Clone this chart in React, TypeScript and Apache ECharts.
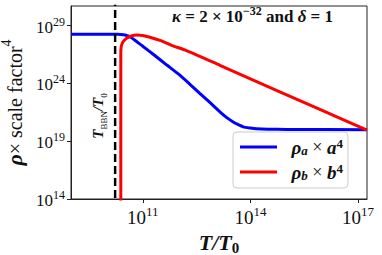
import React, { useEffect, useRef } from "react";
import * as echarts from "echarts";

// log10(T/T0) limits and ticks
const xMin = 9;
const xMax = 17.25;
const yMin = 14;
const yMax = 30.7;
const xTicks = [11, 14, 17];
const yTicks = [14, 19, 24, 29];
const bbnPos = 10.23; // log10(T_BBN/T0)

// log10(T/T0), log10(rho_a a^4)
const blueX = [9, 10.3, 10.46, 10.55, 10.65, 10.8, 11.0, 11.3, 11.67, 12.0, 12.3, 12.59, 12.9, 13.15, 13.35, 13.52, 13.65, 13.8, 14.0, 14.17, 14.5, 15.0, 17.25];
const blueY = [28.25, 28.25, 28.22, 28.15, 28.02, 27.7, 27.22, 26.5, 25.59, 24.8, 23.97, 23.14, 22.27, 21.54, 21.02, 20.67, 20.45, 20.24, 20.14, 20.08, 20.04, 20.02, 20.0];

// log10(T/T0), log10(rho_b b^4)
const redX = [10.388, 10.388, 10.4, 10.45, 10.55, 10.68, 10.83, 11.0, 11.2, 11.48, 11.8, 12.22, 13.15, 14.0, 14.82, 16.0, 17.25];
const redY = [10, 26.6, 27.2, 27.6, 27.91, 28.1, 28.19, 28.15, 28.0, 27.72, 27.3, 26.84, 25.57, 24.4, 23.28, 21.67, 19.95];

const SERIF = "'Liberation Serif', 'DejaVu Serif', serif";
const INK = "#111";

export default function App() {
  const ref = useRef<HTMLDivElement>(null);
  useEffect(() => {
    if (!ref.current) return;
    const chart = echarts.init(ref.current, undefined, { renderer: "svg" });
    const blueData = blueX.map((x, i) => [x, blueY[i]]);
    const redData = redX.map((x, i) => [x, redY[i]]);
    const option: any = {
      animation: false,
      backgroundColor: "#ffffff",
      grid: {
        left: 71,
        top: 6,
        right: 15,
        bottom: 56,
        containLabel: false,
        outerBoundsMode: "none",
        show: true,
        borderColor: "#222",
        borderWidth: 1,
        backgroundColor: "transparent",
      },
      xAxis: {
        type: "value",
        min: xMin,
        max: xMax,
        splitLine: { show: false },
        axisLine: { show: true, lineStyle: { color: "#222", width: 1 } },
        axisTick: { show: true, customValues: xTicks, length: 4, lineStyle: { color: "#222" } },
        axisLabel: {
          customValues: xTicks,
          margin: 6,
          formatter: (v: number) => `{b|10}{s|${Math.round(v)}}`,
          rich: {
            b: { fontFamily: SERIF, fontSize: 19, color: INK, lineHeight: 22, verticalAlign: "bottom" },
            s: { fontFamily: SERIF, fontSize: 13, color: INK, lineHeight: 13, verticalAlign: "top" },
          },
        },
        name: "{i|T}{n|/}{i|T}{z|0}",
        nameLocation: "middle",
        nameGap: 18,
        nameTextStyle: {
          rich: {
            i: { fontFamily: SERIF, fontSize: 22, fontWeight: "bold", fontStyle: "italic", color: INK, lineHeight: 24, verticalAlign: "top" },
            n: { fontFamily: SERIF, fontSize: 22, fontWeight: "bold", fontStyle: "italic", color: INK, lineHeight: 24, verticalAlign: "top" },
            z: { fontFamily: SERIF, fontSize: 15, fontWeight: "bold", color: INK, lineHeight: 26, verticalAlign: "top", padding: [9, 0, 0, 0] },
          },
        },
      },
      yAxis: {
        type: "value",
        min: yMin,
        max: yMax,
        splitLine: { show: false },
        axisLine: { show: true, lineStyle: { color: "#222", width: 1 } },
        axisTick: { show: true, customValues: yTicks, length: 4, lineStyle: { color: "#222" } },
        axisLabel: {
          customValues: yTicks,
          margin: 6,
          formatter: (v: number) => `{b|10}{s|${Math.round(v)}}`,
          rich: {
            b: { fontFamily: SERIF, fontSize: 17, color: INK, lineHeight: 20, verticalAlign: "bottom" },
            s: { fontFamily: SERIF, fontSize: 12, color: INK, lineHeight: 12, verticalAlign: "top" },
          },
        },
        name: "{r|ρ}{t|× scale factor}{s|4}",
        nameLocation: "middle",
        nameGap: 37,
        nameTextStyle: {
          rich: {
            r: { fontFamily: SERIF, fontSize: 22, fontWeight: "bold", fontStyle: "italic", color: INK, lineHeight: 26, verticalAlign: "bottom" },
            t: { fontFamily: SERIF, fontSize: 20, color: INK, lineHeight: 26, verticalAlign: "bottom" },
            s: { fontFamily: SERIF, fontSize: 14, color: INK, lineHeight: 14, verticalAlign: "top" },
          },
        },
      },
      legend: {
        data: [
          { name: "a", icon: "rect" },
          { name: "b", icon: "rect" },
        ],
        orient: "vertical",
        left: 233,
        top: 132,
        itemWidth: 37,
        itemHeight: 3,
        itemGap: 5,
        padding: [5, 5, 6, 7],
        backgroundColor: "#ffffff",
        borderColor: "#cccccc",
        borderWidth: 1,
        borderRadius: 4,
        selectedMode: false,
        formatter: (name: string) =>
          name === "a" ? "{p|  ρ}{q|a}{x| × }{m|a}{u|4}" : "{p|  ρ}{q|b}{x| × }{m|b}{u|4}",
        textStyle: {
          rich: {
            p: { fontFamily: SERIF, fontSize: 19, fontWeight: "bold", fontStyle: "italic", color: INK, lineHeight: 20, verticalAlign: "middle" },
            q: { fontFamily: SERIF, fontSize: 13, fontWeight: "bold", fontStyle: "italic", color: INK, lineHeight: 20, verticalAlign: "bottom", padding: [6, 0, 0, 0] },
            x: { fontFamily: SERIF, fontSize: 18, color: INK, lineHeight: 20, verticalAlign: "middle" },
            m: { fontFamily: SERIF, fontSize: 19, fontWeight: "bold", fontStyle: "italic", color: INK, lineHeight: 20, verticalAlign: "middle" },
            u: { fontFamily: SERIF, fontSize: 13, fontWeight: "bold", color: INK, lineHeight: 13, verticalAlign: "top" },
          },
        },
      },
      graphic: [
        {
          type: "text",
          left: 172,
          top: 5,
          style: {
            text: "{k|κ}{o| = 2 × 10}{e|−32}{o| and }{k|δ}{o| = 1}",
            rich: {
              k: { fontFamily: SERIF, fontSize: 17, fontWeight: "bold", fontStyle: "italic", fill: INK, lineHeight: 20, verticalAlign: "bottom" },
              o: { fontFamily: SERIF, fontSize: 17, fontWeight: "bold", fill: INK, lineHeight: 20, verticalAlign: "bottom" },
              e: { fontFamily: SERIF, fontSize: 12, fontWeight: "bold", fill: INK, lineHeight: 12, verticalAlign: "top" },
            },
          },
        },
        {
          type: "text",
          x: 100,
          y: 116,
          rotation: Math.PI / 2,
          style: {
            x: 0,
            y: 0,
            align: "center",
            verticalAlign: "middle",
            text: "{i|T}{z|BBN}{n|/}{i|T}{z|0}",
            rich: {
              i: { fontFamily: SERIF, fontSize: 15, fontWeight: "bold", fontStyle: "italic", fill: INK, lineHeight: 18, verticalAlign: "top" },
              n: { fontFamily: SERIF, fontSize: 15, fontWeight: "bold", fontStyle: "italic", fill: INK, lineHeight: 18, verticalAlign: "top" },
              z: { fontFamily: SERIF, fontSize: 9, fill: INK, lineHeight: 20, verticalAlign: "top", padding: [9, 0, 0, 0] },
            },
          },
        },
      ],
      series: [
        {
          name: "a",
          type: "line",
          data: blueData,
          showSymbol: false,
          smooth: 0.2,
          lineStyle: { color: "#0000ff", width: 3 },
          itemStyle: { color: "#0000ff" },
          z: 2,
        },
        {
          name: "b",
          type: "line",
          data: redData,
          showSymbol: false,
          smooth: 0.2,
          lineStyle: { color: "#ff0000", width: 3 },
          itemStyle: { color: "#ff0000" },
          z: 3,
        },
        {
          name: "bbn",
          type: "line",
          data: [
            [bbnPos, yMin - 2],
            [bbnPos, yMax + 2],
          ],
          showSymbol: false,
          lineStyle: { color: "#000000", width: 2.5, type: [8, 4] },
          itemStyle: { color: "#000000" },
          z: 4,
        },
      ],
    };
    chart.setOption(option);
    return () => chart.dispose();
  }, []);
  return (
    <div
      ref={ref}
      style={{ position: "fixed", left: 0, top: 0, width: 382, height: 255 }}
    />
  );
}
